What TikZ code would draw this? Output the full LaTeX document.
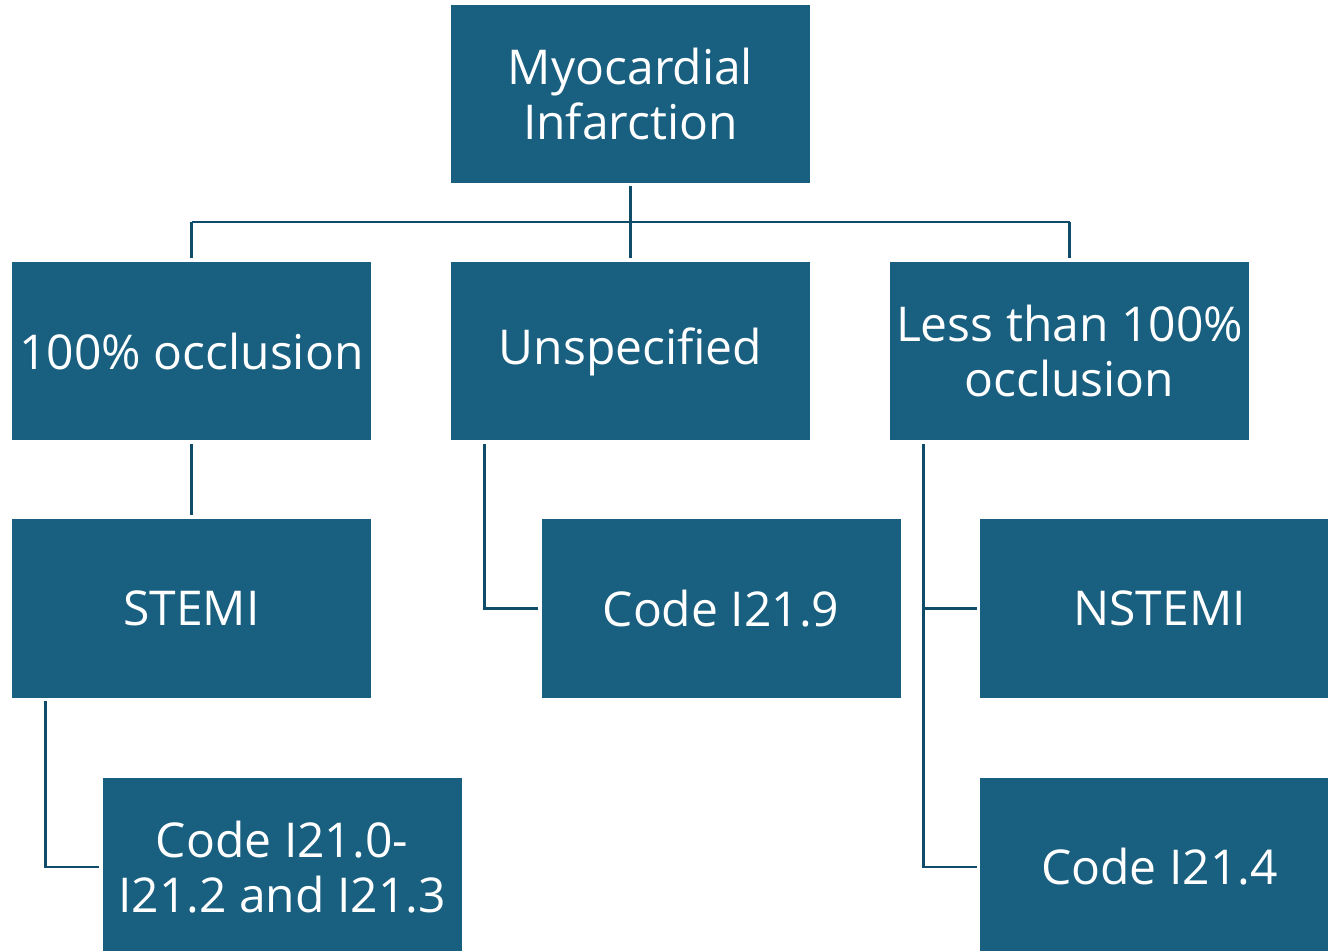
\documentclass[tikz,border=0pt]{standalone}
\usepackage{fontspec}
\setmainfont{Open Sans}
\definecolor{boxblue}{HTML}{185F80}
\definecolor{lineblue}{HTML}{0F4C69}
\begin{document}
\begin{tikzpicture}[x=0.5pt,y=-0.5pt,
  box/.style={rectangle, fill=boxblue, draw=none, text=white, inner sep=0pt,
    minimum width=179.5pt, minimum height=89pt, align=center,
    font=\fontsize{24}{27.5}\selectfont},
  conn/.style={draw=lineblue, line width=1.25pt}]
\useasboundingbox (0,0) rectangle (1328,951);
\node[box] (top) at (630.5,94) {Myocardial\\Infarction};
\node[box] (occ) at (191.5,351.5) {100\% occlusion};
\node[box] (unsp) at (630.5,351.5) {Unspecified};
\node[box] (less) at (1069.5,351.5) {Less than 100\%\\occlusion};
\node[box] (stemi) at (191.5,608.5) {STEMI};
\node[box] (code9) at (721,608.5) {Code I21.9};
\node[box] (nstemi) at (1159.5,608.5) {NSTEMI};
\node[box] (code0) at (282,867) {Code I21.0-\\I21.2 and I21.3};
\node[box] (code4) at (1159.5,867) {Code I21.4};
\coordinate (bus) at (0,222);
\draw[conn, shorten <=1.5pt] (top.south) -- (top.south |- bus);
\draw[conn] (occ.north |- bus) -- (less.north |- bus);
\draw[conn, shorten >=2pt] (occ.north |- bus) -- (occ.north);
\draw[conn, shorten >=2pt] (unsp.north |- bus) -- (unsp.north);
\draw[conn, shorten >=2pt] (less.north |- bus) -- (less.north);
\draw[conn, shorten <=1.5pt, shorten >=2pt] (occ.south) -- (stemi.north);
\draw[conn, shorten <=1.5pt, shorten >=1.5pt] ([xshift=17pt]unsp.south west) |- (code9.west);
\draw[conn, shorten <=1.5pt, shorten >=1.5pt] ([xshift=17pt]less.south west) |- (nstemi.west);
\draw[conn, shorten <=1.5pt, shorten >=1.5pt] ([xshift=17pt]less.south west) |- (code4.west);
\draw[conn, shorten <=1.5pt, shorten >=1.5pt] ([xshift=17pt]stemi.south west) |- (code0.west);
\end{tikzpicture}
\end{document}
